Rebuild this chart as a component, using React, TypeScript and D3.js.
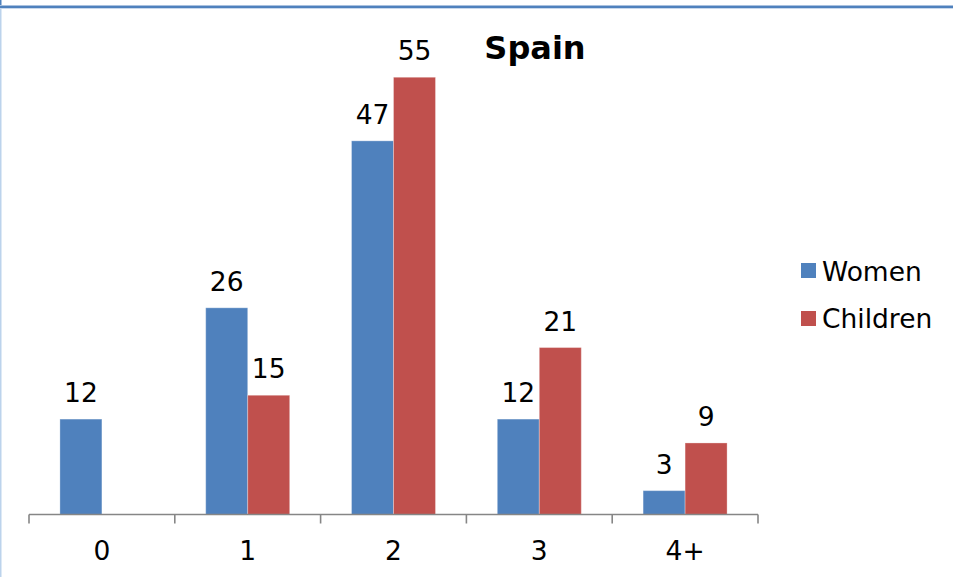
import React from "react";
import * as d3 from "d3";

const categories = ["0", "1", "2", "3", "4+"];
const women: (number | null)[] = [12, 26, 47, 12, 3];
const children: (number | null)[] = [null, 15, 55, 21, 9];
const seriesNames = ["Women", "Children"];
const seriesColors = ["#4F81BD", "#C0504D"];
const title = "Spain";

const W = 953;
const H = 577;
const FONT = "'DejaVu Sans', Verdana, sans-serif";
const LABEL_SIZE = 26.5;

export default function App() {
  const x = d3.scaleBand<string>().domain(categories).range([29, 758]).paddingInner(0).paddingOuter(0);
  const y = d3.scaleLinear().domain([0, 60]).range([514.5, 37.5]);
  const bw = x.bandwidth();
  const barW = bw * 0.288;
  const inner = d3
    .scaleBand<string>()
    .domain(seriesNames)
    .range([(bw - 2 * barW) / 2, (bw + 2 * barW) / 2]);

  const series = [women, children];
  const baseY = y(0);

  return (
    <svg
      width={W}
      height={H}
      style={{ position: "absolute", left: 0, top: 0, background: "#fff" }}
      fontFamily={FONT}
    >
      <rect x={0} y={0} width={W} height={H} fill="#fff" />
      {/* frame */}
      <rect x={0} y={0} width={1.5} height={6} fill="#4F81BD" />
      <rect x={0} y={5} width={W} height={1} fill="#A9C1DF" />
      <rect x={0} y={6} width={W} height={2} fill="#4F81BD" />
      <rect x={0} y={8} width={W} height={1} fill="#C8D8EC" />
      <rect x={0} y={9} width={1.5} height={H - 9} fill="#BCD3EC" />

      {/* title */}
      <text x={535} y={59} textAnchor="middle" fontWeight="bold" fontSize={32} fill="#000">
        {title}
      </text>

      {/* bars */}
      {series.map((vals, si) =>
        vals.map((v, ci) => {
          if (v == null) return null;
          const bx = (x(categories[ci]) as number) + (inner(seriesNames[si]) as number);
          const top = y(v);
          return (
            <g key={`${si}-${ci}`}>
              <rect
                x={bx}
                y={top}
                width={inner.bandwidth()}
                height={baseY - top}
                fill={seriesColors[si]}
                stroke="rgba(255,255,255,0.3)"
                strokeWidth={1}
              />
              <text
                x={bx + inner.bandwidth() / 2}
                y={top - 17}
                textAnchor="middle"
                fontSize={LABEL_SIZE}
                fill="#000"
              >
                {v}
              </text>
            </g>
          );
        })
      )}

      {/* category axis */}
      <line x1={29} x2={758} y1={baseY} y2={baseY} stroke="#868686" strokeWidth={1.6} />
      {[...categories.map((c) => x(c) as number), 758].map((tx, i) => (
        <line key={i} x1={tx} x2={tx} y1={baseY} y2={baseY + 9} stroke="#868686" strokeWidth={1.6} />
      ))}
      {categories.map((c) => (
        <text
          key={c}
          x={(x(c) as number) + bw / 2}
          y={560}
          textAnchor="middle"
          fontSize={LABEL_SIZE}
          fill="#000"
        >
          {c}
        </text>
      ))}

      {/* legend */}
      {seriesNames.map((n, i) => (
        <g key={n}>
          <rect x={801} y={263 + i * 48} width={15} height={15} fill={seriesColors[i]} />
          <text x={822} y={280.5 + i * 47} fontSize={LABEL_SIZE} fill="#000">
            {n}
          </text>
        </g>
      ))}
    </svg>
  );
}
